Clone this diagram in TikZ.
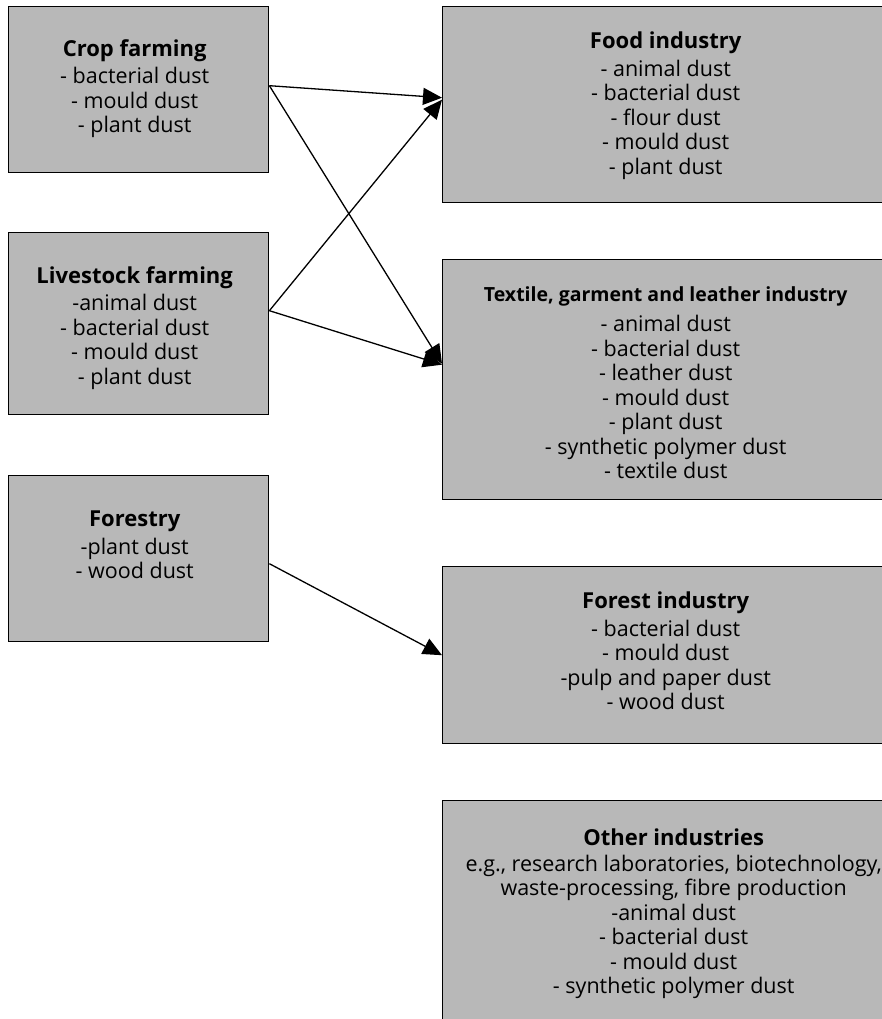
\documentclass[tikz,border=0pt]{standalone}
\usepackage{fontspec}
\setmainfont{Open Sans}
\usetikzlibrary{positioning,arrows.meta}
\definecolor{boxgray}{RGB}{184,184,184}
\newcommand{\boxtitle}[1]{{\fontsize{22}{24}\selectfont\bfseries #1}}

\begin{document}
\begin{tikzpicture}[x=1pt, y=-1pt,
    box/.style={draw, line width=1.4pt, fill=boxgray, inner sep=0pt, anchor=north west},
    txt/.style={align=center, inner sep=0pt, font=\fontsize{21.5}{24.5}\selectfont},
    arr/.style={-{Triangle[length=19pt, width=17pt]}, line width=1.3pt}]
    \useasboundingbox (0,0) rectangle (881,1019);

    % Crop farming
    \node[box, minimum width=260pt, minimum height=166pt] (crop) at (8,6) {};
    \node[txt, below=33pt of crop.north, xshift=-4pt] (crop-txt) {\boxtitle{Crop farming}\\[3pt]
        - bacterial dust\\ - mould dust\\ - plant dust};

    % Livestock farming
    \node[box, minimum width=260pt, minimum height=182pt] (live) at (8,232) {};
    \node[txt, below=34pt of live.north, xshift=-4pt] (live-txt) {\boxtitle{Livestock farming}\\[3pt]
        -animal dust\\ - bacterial dust\\ - mould dust\\ - plant dust};

    % Forestry
    \node[box, minimum width=260pt, minimum height=166pt] (forestry) at (8,475) {};
    \node[txt, below=36pt of forestry.north, xshift=-4pt] (forestry-txt) {\boxtitle{Forestry}\\[3pt]
        -plant dust\\ - wood dust};

    % Food industry
    \node[box, minimum width=446pt, minimum height=196pt] (food) at (442,6) {};
    \node[txt, below=26pt of food.north] (food-txt) {\boxtitle{Food industry}\\[3pt]
        - animal dust\\ - bacterial dust\\ - flour dust\\ - mould dust\\ - plant dust};

    % Textile, garment and leather industry
    \node[box, minimum width=446pt, minimum height=240pt] (textile) at (442,259) {};
    \node[txt, below=27pt of textile.north] (textile-txt) {{\fontsize{19.5}{22}\selectfont\bfseries Textile, garment and leather industry}\\[6pt]
        - animal dust\\ - bacterial dust\\ - leather dust\\ - mould dust\\ - plant dust\\
        - synthetic polymer dust\\ - textile dust};

    % Forest industry
    \node[box, minimum width=446pt, minimum height=177pt] (forest) at (442,566) {};
    \node[txt, below=26pt of forest.north] (forest-txt) {\boxtitle{Forest industry}\\[3pt]
        - bacterial dust\\ - mould dust\\ -pulp and paper dust\\ - wood dust};

    % Other industries
    \node[box, minimum width=446pt, minimum height=240pt] (other) at (442,800) {};
    \node[txt, below=29pt of other.north, xshift=8pt] (other-txt) {\boxtitle{Other industries}\\[1pt]
        e.g., research laboratories, biotechnology,\\ waste-processing, fibre production\\
        -animal dust\\ - bacterial dust\\ - mould dust\\ - synthetic polymer dust};

    % Arrows
    \draw[arr] ([yshift=4pt]crop.east) -- ([yshift=7pt]food.west);
    \draw[arr] ([yshift=4pt]crop.east) -- ([yshift=16pt]textile.west);
    \draw[arr] ([yshift=13pt]live.east) -- ([yshift=5pt]food.west);
    \draw[arr] ([yshift=13pt]live.east) -- ([yshift=15pt]textile.west);
    \draw[arr] ([yshift=-5pt]forestry.east) -- (forest.west);
\end{tikzpicture}
\end{document}
